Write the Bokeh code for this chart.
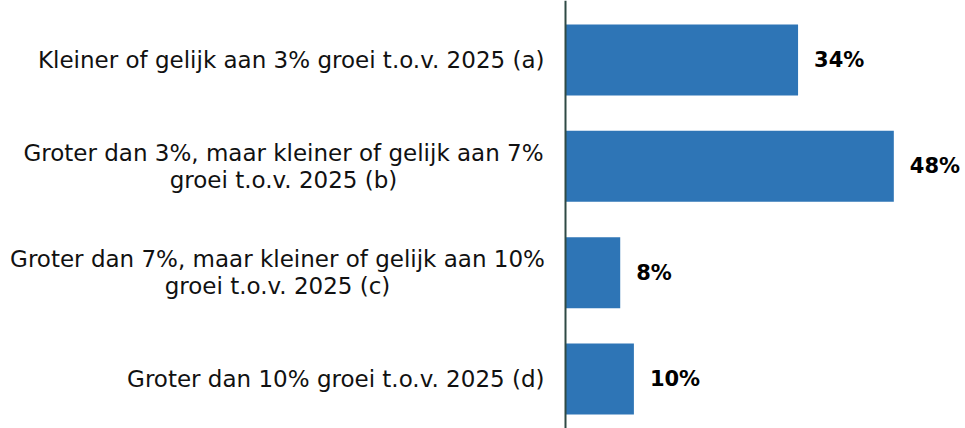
from bokeh.plotting import figure
from bokeh.models import Range1d, Span, ColumnDataSource
from bokeh.core.properties import value
from bokeh.embed import file_html
from bokeh.resources import INLINE

# ---- data ----
categories = [
    "Kleiner of gelijk aan 3% groei t.o.v. 2025 (a)",
    "Groter dan 3%, maar kleiner of gelijk aan 7%\ngroei t.o.v. 2025 (b)",
    "Groter dan 7%, maar kleiner of gelijk aan 10%\ngroei t.o.v. 2025 (c)",
    "Groter dan 10% groei t.o.v. 2025 (d)",
]
values = [34, 48, 8, 10]
value_labels = ["34%", "48%", "8%", "10%"]

# ---- layout ----
W, H = 965, 428
origin_px = 565          # x-pixel of the value axis inside the figure
px_per_unit = 6.84       # pixels per percentage point
band = 106.33            # pixels per category
top_px = 59.5            # centre of first bar from top

x_range = Range1d(-origin_px / px_per_unit, (W - origin_px) / px_per_unit)
y_start = -top_px / band
y_end = y_start + H / band

p = figure(width=W, height=H, x_range=x_range, y_range=Range1d(y_end, y_start),
           output_backend="svg", toolbar_location=None, min_border=0)
p.axis.visible = False
p.grid.visible = False
p.outline_line_color = None
p.background_fill_color = "white"
p.border_fill_color = "white"

idx = list(range(len(categories)))
src = ColumnDataSource(dict(y=idx, v=values, lab=value_labels, cat=categories))

p.hbar(y="y", left=0, right="v", height=0.668, source=src,
       fill_color="#2E75B6", line_color=None)

p.add_layout(Span(location=0, dimension="height", line_color="#2F4A45", line_width=2))

font = value("DejaVu Sans")

single = [i for i, c in enumerate(categories) if "\n" not in c]
multi = [i for i, c in enumerate(categories) if "\n" in c]
multi_offsets = [-282, -288]

p.text(x=[0] * len(single), y=[idx[i] for i in single], text=[categories[i] for i in single],
       x_offset=-21, text_align="right", text_baseline="middle",
       text_font=font, text_font_size="23px", text_color="#111111")
p.text(x=[0] * len(multi), y=[idx[i] for i in multi], text=[categories[i] for i in multi],
       x_offset=multi_offsets, text_align="center", text_baseline="middle", text_line_height=1.05,
       text_font=font, text_font_size="23px", text_color="#111111")

p.text(x="v", y="y", text="lab", source=src, x_offset=16,
       text_align="left", text_baseline="middle",
       text_font=font, text_font_size="21px", text_font_style="bold", text_color="#000000")

open("out.html", "w").write(file_html(p, INLINE))
